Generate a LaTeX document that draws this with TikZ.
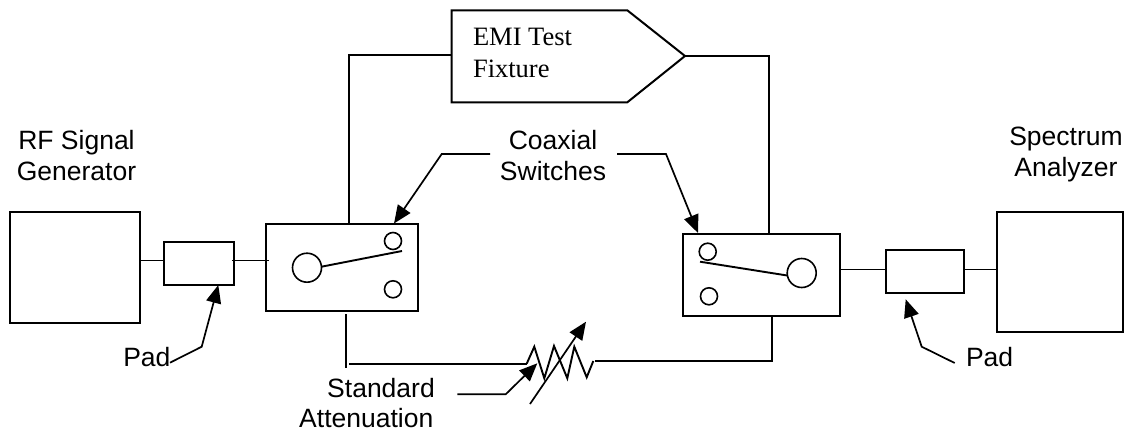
\documentclass[tikz,border=0pt]{standalone}
\usepackage{fontspec}
\setmainfont{Liberation Sans}
\newfontfamily\timesface{Liberation Serif}
\usetikzlibrary{arrows.meta}
\tikzset{
  boxnode/.style={draw=black,line width=2pt,inner sep=0pt,outer sep=0pt,fill=none},
  contact/.style={circle,draw=black,line width=1.6pt,inner sep=0pt,outer sep=0pt},
  wire/.style={draw=black,line width=1.9pt},
  thinwire/.style={draw=black,line width=1.9pt},
  leader/.style={draw=black,line width=1.7pt,-{Triangle[length=18pt,width=15pt]}},
  label/.style={font=\fontsize{26.5}{31.5}\selectfont,text=black,inner sep=0pt,outer sep=0pt},
}
\begin{document}
\begin{tikzpicture}[x=1pt,y=-1pt]
\useasboundingbox (0,0) rectangle (1127,431);
% boxes
\node[boxnode,minimum width=130pt,minimum height=110.7pt] (gen) at (75,267.35) {};
\node[boxnode,minimum width=70.5pt,minimum height=43.3pt] (padL) at (198.75,263.35) {};
\node[boxnode,minimum width=152pt,minimum height=86.5pt] (swL) at (342,267.25) {};
\node[boxnode,minimum width=156.7pt,minimum height=82.6pt] (swR) at (761.65,275) {};
\node[boxnode,minimum width=78pt,minimum height=42.7pt] (padR) at (924.7,271.35) {};
\node[boxnode,minimum width=126pt,minimum height=119.7pt] (ana) at (1060.3,272.15) {};
% switch contacts
\node[contact,minimum size=29pt] (hubL) at (307,267.7) {};
\node[contact,minimum size=17pt] (c1L) at (393,241) {};
\node[contact,minimum size=17pt] (c2L) at (393,289.3) {};
\node[contact,minimum size=29pt] (hubR) at (801.7,273) {};
\node[contact,minimum size=17pt] (c1R) at (707.7,251.7) {};
\node[contact,minimum size=17pt] (c2R) at (709,296.3) {};
\coordinate (armL) at (402,251);
\coordinate (armR) at (700,261.7);
\draw[wire] (hubL.east) ++(0,-1) -- (armL);
\draw[wire] (hubR.west) ++(0,2.5) -- (armR);
% fixture
\coordinate (fixNW) at (451.7,10.3);
\coordinate (fixN) at (627.3,10.3);
\coordinate (fixTip) at (685,56);
\coordinate (fixS) at (627.3,102.3);
\coordinate (fixSW) at (451.7,102.3);
\coordinate (fixW) at (451.7,55);
\draw[boxnode,line join=miter] (fixNW) -- (fixN) -- (fixTip) -- (fixS) -- (fixSW) -- cycle;
\node[label,font=\fontsize{26.5}{32}\timesface,align=left,anchor=center] (fixText) at (522.5,52.5) {EMI Test\\Fixture};
% horizontal wires between boxes
\coordinate (genP) at (140,260.5);
\coordinate (padLa) at (163.5,260.5);
\coordinate (padLb) at (232,260.5);
\coordinate (swLa) at (269,260.5);
\draw[thinwire] (genP) -- (padLa);
\draw[thinwire] (padLb) -- (swLa);
\coordinate (swRp) at (840,269.5);
\coordinate (padRa) at (885.7,269.5);
\coordinate (padRb) at (963.7,269.5);
\coordinate (anaP) at (997.3,269.5);
\draw[thinwire] (swRp) -- (padRa);
\draw[thinwire] (padRb) -- (anaP);
% fixture wires
\coordinate (swLtop) at (349,224);
\coordinate (swRtop) at (769,233.7);
\draw[wire] (swLtop) |- (fixW);
\draw[wire] (fixTip) -| (swRtop);
% attenuator
\coordinate (stubT) at (346,314);
\coordinate (stubB) at (346,367.7);
\draw[wire] (stubT) -- (stubB);
\coordinate (lineA) at (349,363.7);
\coordinate (zA) at (526.7,363.7);
\coordinate (zB) at (595.3,361.3);
\coordinate (swRbot) at (771.7,316.3);
\draw[wire] (lineA) -- (zA);
\draw[wire] (zA) -- (534.3,346.7) -- (544.3,378.3) -- (554,346) -- (567.3,378.3) -- (574.3,346.7) -- (586.7,377.3) -- (593.3,361);
\draw[wire] (zB) -| (swRbot);
\coordinate (varS) at (530,404);
\coordinate (varE) at (586,321.7);
\draw[leader] (varS) -- (varE);
% labels
\node[label,align=center,anchor=center] (rf) at (76.5,155.5) {RF Signal\\Generator};
\node[label,align=center,anchor=center] (sa) at (1066,154.5) {Spectrum\\Analyzer};
\node[label,align=center,anchor=center] (cs) at (553,155.5) {Coaxial\\Switches};
\node[label,anchor=base west] (pL) at (123.3,366.7) {Pad};
\node[label,anchor=base west] (pR) at (966,366.7) {Pad};
\node[label,font=\fontsize{26.5}{30}\selectfont,align=left,anchor=center] (att) at (367,403) {\hspace*{28pt}Standard\\Attenuation};
% leaders
\coordinate (csLa) at (490,154);
\coordinate (csLb) at (441.7,154);
\coordinate (csLt) at (394,223.5);
\draw[leader] (csLa) -- (csLb) -- (csLt);
\coordinate (csRa) at (617,154);
\coordinate (csRb) at (666,154);
\coordinate (csRt) at (698,233);
\draw[leader] (csRa) -- (csRb) -- (csRt);
\coordinate (pLa) at (170,362.7);
\coordinate (pLb) at (201.7,346.7);
\coordinate (pLt) at (218.3,285);
\draw[leader] (pLa) -- (pLb) -- (pLt);
\coordinate (pRa) at (954.7,363);
\coordinate (pRb) at (921.7,346.7);
\coordinate (pRt) at (905.7,299.3);
\draw[leader] (pRa) -- (pRb) -- (pRt);
\coordinate (atA) at (457.3,394.3);
\coordinate (atB) at (505.7,394.3);
\coordinate (atT) at (537.3,363.3);
\draw[leader] (atA) -- (atB) -- (atT);
\end{tikzpicture}
\end{document}
